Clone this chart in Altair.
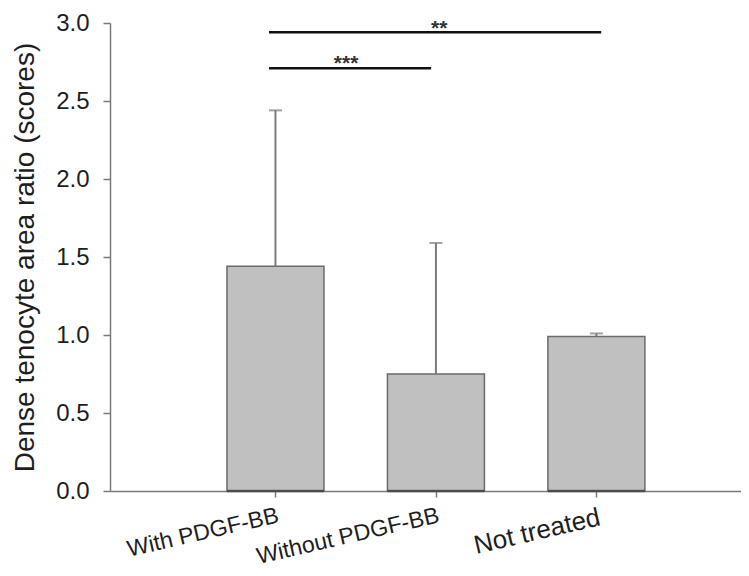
import json
import altair as alt
import pandas as pd

# ---- data ----
categories = ["With PDGF-BB", "Without PDGF-BB", "Not treated"]
positions = [1, 2, 3]
means = [1.44, 0.75, 0.99]
upper = [2.44, 1.59, 1.01]

sig_labels = ["***", "**"]
sig_start = [0.96, 0.96]
sig_end = [1.97, 3.03]
sig_level = [2.71, 2.94]
sig_text_x = [1.44, 2.02]
sig_text_y = [2.76, 2.99]

y_ticks = [0.0, 0.5, 1.0, 1.5, 2.0, 2.5, 3.0]

bars_df = pd.DataFrame({"cat": categories, "pos": positions, "mean": means, "upper": upper})
sig_df = pd.DataFrame({
    "label": sig_labels, "x1": sig_start, "x2": sig_end, "y": sig_level,
    "tx": sig_text_x, "ty": sig_text_y,
})

FONT = "Liberation Sans"
TEXT = "#1e1e1e"
AXIS = "#7a7a7a"

x_scale = alt.Scale(domain=[0, 3.87], nice=False, zero=False)
y_scale = alt.Scale(domain=[0, 3], nice=False, zero=True)

label_expr = json.dumps(categories) + "[datum.value - 1]"

x_axis = alt.Axis(
    values=positions, labelExpr=label_expr, title=None, grid=False,
    labelAngle=-13, labelAlign="right", labelBaseline="top",
    labelFontSize={"condition": {"test": "datum.value == 3", "value": 26}, "value": 23},
    labelPadding=7, tickSize=6, tickWidth=1.5, tickColor=AXIS,
    domainColor=AXIS, domainWidth=1.5, labelLimit=0,
    labelOverlap=False, labelBound=False, labelFlush=False,
    labelColor=TEXT, labelFont=FONT,
)
y_axis = alt.Axis(
    values=y_ticks, format=".1f", title="Dense tenocyte area ratio (scores)", grid=False,
    labelFontSize=24, labelPadding=14, tickSize=7, tickWidth=1.5, tickColor=AXIS,
    domainColor=AXIS, domainWidth=1.5, labelColor=TEXT, labelFont=FONT,
    titleFont=FONT, titleFontSize=28, titleFontWeight="normal", titleColor=TEXT,
    titlePadding=16, labelFlush=False, titleLimit=0,
)

base = alt.Chart(bars_df)

bars = base.mark_bar(size=97, fill="#c0c0c0", stroke="#6b6b6b", strokeWidth=1.5).encode(
    x=alt.X("pos:Q", scale=x_scale, axis=x_axis),
    y=alt.Y("mean:Q", scale=y_scale, axis=y_axis),
)

bar_base_line = base.mark_tick(orient="horizontal", size=97, thickness=2.5, color="#3a3a3a").encode(
    x="pos:Q", y=alt.datum(0),
)

err_line = base.mark_rule(color="#7a7a7a", strokeWidth=2).encode(
    x="pos:Q", y="mean:Q", y2="upper:Q",
)
err_cap = base.mark_tick(orient="horizontal", size=13, thickness=2, color="#7a7a7a").encode(
    x="pos:Q", y="upper:Q",
)

sig_lines = alt.Chart(sig_df).mark_rule(color="#111111", strokeWidth=2.5).encode(
    x="x1:Q", x2="x2:Q", y="y:Q",
)
sig_text = alt.Chart(sig_df).mark_text(
    font=FONT, fontSize=21, fontWeight="bold", color="#333333", baseline="middle", dy=4,
).encode(x="tx:Q", y="ty:Q", text="label:N")

chart = alt.layer(bars, bar_base_line, err_line, err_cap, sig_lines, sig_text).properties(
    width=631, height=468,
    autosize=alt.AutoSizeParams(type="none"),
    padding={"left": 102, "top": 15, "right": 0, "bottom": 77},
).configure_view(stroke=None)

chart.save("out.html", embed_options={"renderer": "svg", "actions": False})
